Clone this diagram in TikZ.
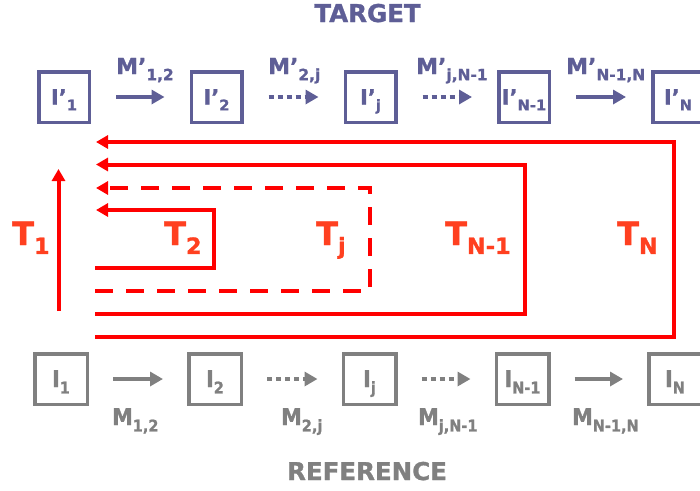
\documentclass[tikz,border=0pt]{standalone}
\usepackage{fontspec}
\setmainfont{DejaVu Sans}[BoldFeatures={FakeBold=1.2}]
\newfontfamily\condfont{DejaVu Sans Condensed}[BoldFeatures={FakeBold=1.2}]
\usetikzlibrary{arrows.meta}
\definecolor{tgtcol}{RGB}{94,94,150}
\definecolor{refcol}{RGB}{128,128,128}
\definecolor{trcol}{RGB}{255,0,0}
\definecolor{tlabcol}{RGB}{255,64,32}
\makeatletter
\newlength\idxsize
\newcommand{\idx}[1]{\setlength\idxsize{0.7\dimexpr\f@size pt\relax}\raisebox{-0.28em}{\fontsize{\idxsize}{\idxsize}\selectfont #1}}
\makeatother

\begin{document}
\begin{tikzpicture}[
  x=1pt, y=-1pt,
  tbox/.style={draw=tgtcol,line width=3.5pt,minimum size=50.5pt,inner sep=0pt,text=tgtcol,font=\fontsize{21}{21}\selectfont\bfseries,text height=15pt,text depth=0pt},
  rbox/.style={draw=refcol,line width=3.5pt,minimum width=52.5pt,minimum height=50.5pt,inner sep=0pt,text=refcol,font=\condfont\fontsize{23}{23}\selectfont\bfseries,text height=16pt,text depth=0pt},
  tmap/.style={anchor=base west,inner sep=0pt,text=tgtcol,font=\fontsize{22}{22}\selectfont\bfseries},
  rmap/.style={anchor=base west,inner sep=0pt,text=refcol,font=\condfont\fontsize{23}{23}\selectfont\bfseries},
  tarr/.style={draw=tgtcol,line width=4.5pt,-{Triangle[length=13pt,width=14pt]},shorten <=25pt,shorten >=25pt},
  rarr/.style={draw=refcol,line width=4.5pt,-{Triangle[length=13pt,width=14pt]},shorten <=24pt,shorten >=24pt},
  dots/.style={dash pattern=on 5pt off 4pt},
  tpath/.style={draw=trcol,line width=4pt,-{Triangle[length=12pt,width=13pt]}},
  tlab/.style={anchor=base west,inner sep=0pt,text=tlabcol,font=\fontsize{32}{32}\selectfont\bfseries},
  title/.style={anchor=base,inner sep=0pt,font=\fontsize{24.5}{24.5}\selectfont\bfseries}
]
  \useasboundingbox (0,0) rectangle (700,490);

  % target row
  \node[title,text=tgtcol] (target) at (367.5,22) {TARGET};
  \node[tbox] (t1) at (64,97) {I’\idx{1}};
  \node[tbox] (t2) at (216.5,97) {I’\idx{2}};
  \node[tbox] (tj) at (370.5,97) {I’\idx{j}};
  \node[tbox] (tn1) at (524,97) {I’\idx{N-1}};
  \node[tbox] (tn) at (678,97) {I’\idx{N}};
  \draw[tarr] (t1) -- (t2);
  \draw[tarr,dots] (t2) -- (tj);
  \draw[tarr,dots] (tj) -- (tn1);
  \draw[tarr] (tn1) -- (tn);
  \node[tmap] (mt12) at (116,74) {M’\idx{1,2}};
  \node[tmap] (mt2j) at (268,74) {M’\idx{2,j}};
  \node[tmap] (mtjn) at (416,74) {M’\idx{j,N-1}};
  \node[tmap] (mtnn) at (566,74) {M’\idx{N-1,N}};

  % transformations
  \draw[tpath] (58.5,311) -- (58.5,169);
  \draw[tpath] (95,268) -| (214,210) -- (96,210);
  \draw[tpath,dash pattern=on 18pt off 13pt] (95,291) -| (370,188) -- (96,188);
  \draw[tpath] (95,314) -| (525,164.5) -- (96,164.5);
  \draw[tpath] (95,337) -| (674,142) -- (96,142);
  \node[tlab] (T1) at (12,245) {T\idx{1}};
  \node[tlab] (T2) at (164,245) {T\idx{2}};
  \node[tlab] (Tj) at (316,245) {T\idx{j}};
  \node[tlab] (Tn1) at (445,245) {T\idx{N-1}};
  \node[tlab] (Tn) at (617,245) {T\idx{N}};

  % reference row
  \node[rbox] (r1) at (61,379) {I\idx{1}};
  \node[rbox] (r2) at (215,379) {I\idx{2}};
  \node[rbox] (rj) at (369.5,379) {I\idx{j}};
  \node[rbox] (rn1) at (522.5,379) {I\idx{N-1}};
  \node[rbox] (rn) at (675,379) {I\idx{N}};
  \draw[rarr] (r1) -- (r2);
  \draw[rarr,dots] (r2) -- (rj);
  \draw[rarr,dots] (rj) -- (rn1);
  \draw[rarr] (rn1) -- (rn);
  \node[rmap] (mr12) at (112,425) {M\idx{1,2}};
  \node[rmap] (mr2j) at (281,425) {M\idx{2,j}};
  \node[rmap] (mrjn) at (418,425) {M\idx{j,N-1}};
  \node[rmap] (mrnn) at (572,425) {M\idx{N-1,N}};
  \node[title,text=refcol] (reference) at (367,480) {REFERENCE};
\end{tikzpicture}
\end{document}
